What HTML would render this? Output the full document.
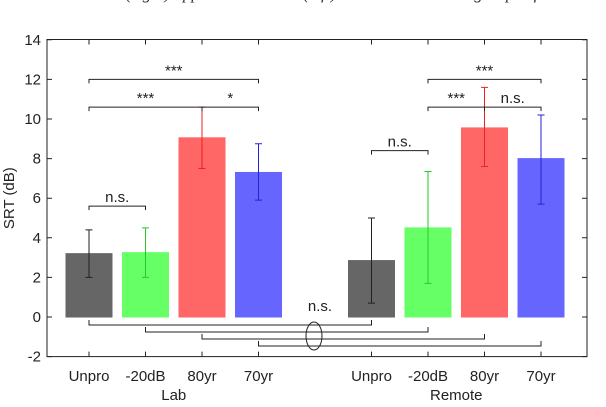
<!DOCTYPE html>
<html><head><meta charset="utf-8"><style>
body{margin:0;background:#fff;width:606px;height:402px;overflow:hidden}
svg text{font-family:"Liberation Sans",sans-serif;font-size:15px;fill:#222}
</style></head><body>
<svg width="606" height="402" xmlns="http://www.w3.org/2000/svg">
<text x="95" y="-1" style="font-family:'Liberation Serif',serif;font-style:italic;font-size:17px;fill:#333">Lab (right) upper and Remote (left) results between the groups of the</text>
<g id="plot"></g>
</svg>
<script>
const categories=["Unpro","-20dB","80yr","70yr","Unpro","-20dB","80yr","70yr"];
const positions=[1,2,3,4,6,7,8,9];
const means=[3.2,3.25,9.05,7.3,2.85,4.5,9.55,8.0];
const lows=[2.0,2.0,7.5,5.9,0.7,1.7,7.6,5.7];
const highs=[4.4,4.5,10.6,8.75,5.0,7.35,11.6,10.2];
const yTicks=[-2,0,2,4,6,8,10,12,14];
const sigFrom=[1,1,1,3,6,7,7,8];
const sigTo=[2,3,4,4,7,8,9,9];
const sigLevel=[5.6,10.6,12.0,10.6,8.4,10.6,12.0,10.6];
const sigLabel=["n.s.","***","***","*","n.s.","***","***","n.s."];
const fills=["#666666","#66ff66","#ff6666","#6666ff","#666666","#66ff66","#ff6666","#6666ff"];
const strokes=["#222","#22cc22","#ee2222","#2222dd","#222","#22cc22","#ee2222","#2222dd"];
const NS="http://www.w3.org/2000/svg";
const L=47,R=587,T=39.5,B=356.6;
const y=v=>317-v*19.8;
const x=i=>32.5+56.5*i;
const g=document.getElementById('plot');
function mk(tag,attrs,txt){const e=document.createElementNS(NS,tag);for(const k in attrs)e.setAttribute(k,attrs[k]);if(txt!=null)e.textContent=txt;g.appendChild(e);return e;}
means.forEach((m,i)=>{const cx=x(positions[i]);
 const r=mk('rect',{x:cx-23,y:Math.min(y(m),y(0)),width:46,height:Math.abs(y(0)-y(m)),fill:fills[i],stroke:fills[i]});
 
 
 const e=mk('path',{d:`M${cx},${y(lows[i])}V${y(highs[i])}M${cx-3.5},${y(lows[i])}h7M${cx-3.5},${y(highs[i])}h7`,stroke:strokes[i],'stroke-width':1,fill:'none'});
 
 
});
const box=mk('rect',{x:L,y:T,width:R-L,height:B-T,fill:'none',stroke:'#222','stroke-width':1});


yTicks.forEach(t=>{
 mk('path',{d:`M${L},${y(t)}h5M${R},${y(t)}h-5`,stroke:'#222'});
 const tx=mk('text',{x:L-6,y:y(t)+5,'text-anchor':'end'},t);
 
 
});
positions.forEach((p,i)=>{
 mk('path',{d:`M${x(p)},${B}v-5M${x(p)},${T}v5`,stroke:'#222'});
 const tx=mk('text',{x:x(p),y:381,'text-anchor':'middle'},categories[i]);
 
 
});
let t1=mk('text',{x:x(2.5),y:400,'text-anchor':'middle'},'Lab');

let t2=mk('text',{x:x(7.5),y:400,'text-anchor':'middle'},'Remote');

let yl=mk('text',{x:0,y:0,transform:`translate(14,${y(6)}) rotate(-90)`,'text-anchor':'middle'},'SRT (dB)');

sigFrom.forEach((f,i)=>{const a=x(f),b=x(sigTo[i]),yy=y(sigLevel[i]);
 const p=mk('path',{d:`M${a},${yy+4}V${yy}H${b}V${yy+4}`,stroke:'#222',fill:'none'});
 
 
 const s=mk('text',{x:(a+b)/2,y:yy-4,'text-anchor':'middle','font-size':'14px'},sigLabel[i]);
 
 
});
[0,1,2,3].forEach(k=>{const a=x(positions[k]),b=x(positions[k+4]),yy=325+7*k;
 const p=mk('path',{d:`M${a},${yy-5}V${yy}H${b}V${yy-5}`,stroke:'#222',fill:'none'});
 
 
});
const el=mk('ellipse',{cx:314,cy:336,rx:8,ry:14,fill:'none',stroke:'#222'});

const ns=mk('text',{x:320,y:311,'text-anchor':'middle'},'n.s.');

</script>
</body></html>
